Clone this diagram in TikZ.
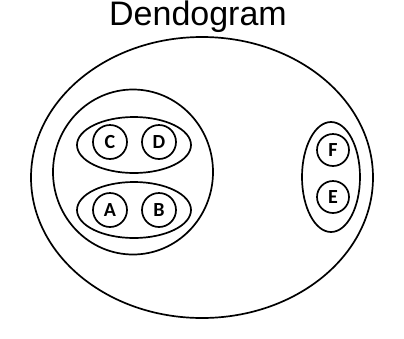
\documentclass[tikz,border=0pt]{standalone}
\usepackage{fontspec}
\setmainfont{Liberation Sans}
\newfontfamily\letterfont{Carlito}
\usetikzlibrary{shapes.geometric}

\begin{document}
\begin{tikzpicture}[x=1pt, y=-1pt,
  ring/.style={draw, ellipse, line width=1.7pt, inner sep=0pt},
  leaf/.style={draw, circle, line width=1.7pt, inner sep=0pt,
    minimum size=#1, font=\letterfont\bfseries\fontsize{20}{20}\selectfont},
  leaf/.default=34pt,
]
  \useasboundingbox (0,0) rectangle (404,338);
  \node[anchor=base, font=\fontsize{34}{34}\selectfont] (title) at (198,25.5) {Dendogram};
  % clusters
  \node[ring, minimum width=342pt, minimum height=281pt] (all) at (202,177.5) {};
  \node[ring, minimum width=160pt, minimum height=165pt] (left) at (133,172) {};
  \node[ring, minimum width=114pt, minimum height=56pt] (cd) at (134,145) {};
  \node[ring, minimum width=114pt, minimum height=56pt] (ab) at (134,210) {};
  \node[ring, minimum width=58pt, minimum height=110pt] (fe) at (331,177) {};
  % leaves
  \node[leaf] (c) at (110,142) {C};
  \node[leaf] (d) at (159,142) {D};
  \node[leaf] (a) at (110,210) {A};
  \node[leaf] (b) at (159,210) {B};
  \node[leaf=32pt] (f) at (333,150) {F};
  \node[leaf=32pt] (e) at (333,197) {E};
\end{tikzpicture}
\end{document}
